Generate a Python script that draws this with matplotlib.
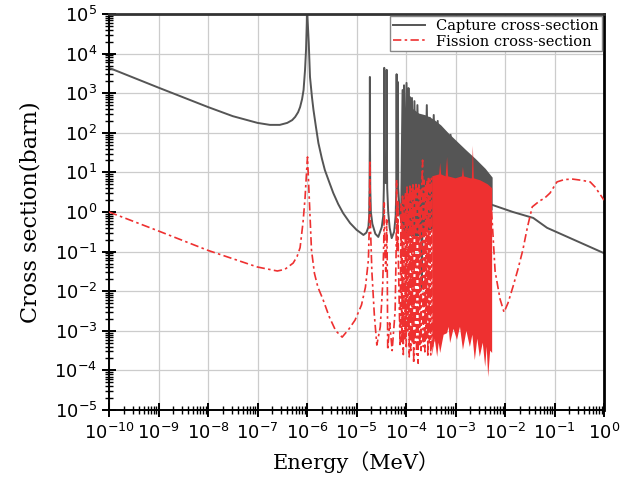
import numpy as np
import matplotlib
matplotlib.use("Agg")
import matplotlib.pyplot as plt
from matplotlib.ticker import LogLocator, NullFormatter, LogFormatterMathtext

plt.rcParams['mathtext.fontset'] = 'cm'

# values, stored as log10(E / MeV) and log10(sigma / barn)

# capture cross-section (one line through the resolved peaks)
capture_log_e = [-10, -9, -8, -7.5, -7, -6.75, -6.55, -6.40, -6.30, -6.24, -6.18, -6.14, -6.10,
                 -6.07, -6.04, -6.02, -6.005, -6.0, -5.99, -5.965, -5.94, -5.90, -5.87, -5.82,
                 -5.77, -5.70, -5.64, -5.55, -5.47, -5.37, -5.27, -5.13, -5.0, -4.86, -4.8,
                 -4.76, -4.745, -4.737, -4.733, -4.73, -4.727, -4.722, -4.71, -4.68, -4.62,
                 -4.56, -4.49, -4.46, -4.448, -4.443, -4.44, -4.437, -4.43, -4.41, -4.398,
                 -4.393, -4.39, -4.387, -4.38, -4.36, -4.33, -4.29, -4.24, -4.21, -4.195,
                 -4.19, -4.185, -4.17, -4.163, -4.157, -4.13, -4.10,
                 -4.07, -4.055, -4.04, -4.02, -3.99, -3.96, -3.95, -3.935, -3.92, -3.90,
                 -3.88, -3.85, -3.83, -3.80, -3.77, -3.72, -3.69, -3.68, -3.665, -3.65,
                 -3.62, -3.58, -3.55, -3.52, -3.48, -3.44, -3.40, -3.36, -3.33, -3.31,
                 -3.25, -3.19, -3.15, -3.1, -3.05, -2.5, -2.26, -1.84, -1.43, -1.15, 0.0]
capture_log_s = [3.64, 3.14, 2.65, 2.42, 2.25, 2.20, 2.20, 2.25, 2.32, 2.40, 2.52, 2.65, 2.85,
                 3.08, 3.59, 4.1, 4.77, 5.2, 4.9, 4.27, 3.41, 2.9, 2.58, 2.15,
                 1.74, 1.35, 1.06, 0.75, 0.48, 0.2, -0.03, -0.28, -0.45, -0.58, -0.52,
                 -0.38, -0.1, 0.6, 1.6, 3.41, 1.6, 0.6, 0.0, -0.3, -0.55,
                 -0.63, -0.38, -0.1, 0.6, 1.6, 3.64, 1.6, 0.9, 0.73, 0.9,
                 1.6, 3.59, 1.6, 0.6, 0.0, -0.4, -0.66, -0.5, -0.1, 0.6,
                 3.48, 0.8, 0.8, 3.28, 0.6, 0.0, -0.2,
                 3.08, 0.3, 3.2, 0.3, 3.26, 0.3, 3.13, 0.3, 2.9, 0.3,
                 2.88, 0.3, 2.8, 0.3, 2.7, 0.0, -0.5, -1.9, 0.0, 2.4,
                 0.5, 2.7, 0.5, 2.38, 0.5, 2.45, 0.5, 2.3, 0.5, 2.15,
                 0.5, 2.0, 0.5, 1.95, 0.5, 0.3, 0.18, 0.0, -0.15, -0.40, -1.04]

# unresolved-looking capture band
capture_band_log_e = [-4.1, -4.05, -3.95, -3.85, -3.75, -3.6, -3.45, -3.3, -3.15, -3.0, -2.8,
                      -2.6, -2.4, -2.26]
capture_band_top = [0.8, 2.55, 2.65, 2.6, 2.5, 2.45, 2.35, 2.2, 2.0, 1.82, 1.58, 1.35, 1.1, 0.88]
capture_band_bottom = [-0.3, -0.5, -0.6, -0.6, -0.6, -0.5, -0.4, -0.3, -0.2, -0.1, 0.0, 0.0,
                       0.05, 0.05]

# fission cross-section
fission_log_e = [-10, -9, -8, -7, -6.6, -6.45, -6.28, -6.2, -6.14, -6.08, -6.04, -6.01, -5.99,
                 -5.96, -5.91, -5.85, -5.78, -5.68, -5.55, -5.42, -5.29, -5.15, -5.03, -4.9,
                 -4.82, -4.76, -4.745, -4.737, -4.73, -4.723, -4.715, -4.69, -4.64, -4.59,
                 -4.52, -4.47, -4.45, -4.44, -4.43, -4.41, -4.395, -4.39, -4.38, -4.37, -4.33,
                 -4.28, -4.22, -4.20, -4.19, -4.18, -4.17, -4.163, -4.155, -4.12,
                 -4.10, -4.085, -4.07, -4.055, -4.04, -4.025, -4.01, -3.995, -3.98, -3.965,
                 -3.95, -3.935, -3.92, -3.905, -3.89, -3.875, -3.86, -3.845, -3.83, -3.815,
                 -3.80, -3.785, -3.77, -3.755, -3.74, -3.725, -3.71, -3.695, -3.68, -3.665,
                 -3.65, -3.635, -3.62, -3.605, -3.59, -3.575, -3.56, -3.545, -3.53, -3.515,
                 -3.50, -3.485, -3.47, -3.0, -2.27, -2.2, -2.1, -2.02, -1.94, -1.84, -1.74,
                 -1.64, -1.55, -1.45, -1.3, -1.2, -1.09, -0.95, -0.8, -0.63, -0.45, -0.28,
                 -0.18, 0.0]
fission_log_s = [0.0, -0.48, -0.97, -1.39, -1.49, -1.45, -1.29, -1.12, -0.9, -0.25, 0.35, 1.0, 1.39,
                 0.5, -0.96, -1.55, -1.9, -2.2, -2.65, -3.0, -3.16, -2.95, -2.73, -2.35,
                 -1.9, -1.21, -0.5, 0.2, 1.31, 0.2, -0.5, -1.5, -2.6, -3.36,
                 -2.9, -1.8, -0.8, 0.23, -0.8, -1.5, -0.8, -0.2, -1.2, -3.48, -2.8,
                 -3.5, -2.5, -1.0, 0.81, -1.0, -1.0, 0.3, -1.2, -3.4,
                 0.2, -3.3, 0.4, -3.6, 0.3, -3.2, 0.5, -3.4, 0.63, -3.0,
                 0.5, -3.66, 0.7, -3.5, 0.6, -3.3, 0.73, -3.82, 0.6, -3.3,
                 0.75, -3.6, 0.6, -3.82, 0.73, -3.4, 0.6, -3.5, 0.7, 1.31,
                 -3.4, 0.8, -3.53, 0.7, -3.2, 0.8, -3.66, 0.9, -3.3, 0.8,
                 -3.61, 0.85, -3.4, -1.0, 0.0, -1.5, -2.2, -2.53, -2.3, -1.89, -1.45,
                 -0.96, -0.4, 0.13, 0.28, 0.35, 0.48, 0.76, 0.82, 0.83, 0.8, 0.76,
                 0.63, 0.3]

# dense fission band (outline: upper edge left to right, lower edge)
fission_top_log_e = [-3.47, -3.33, -3.31, -3.29, -3.2, -3.17, -3.15, -3.0, -2.87, -2.85, -2.83,
                     -2.7, -2.67, -2.65, -2.63, -2.5, -2.35, -2.26]
fission_top_log_s = [0.9, 0.95, 1.24, 0.95, 0.9, 1.39, 0.9, 0.85, 0.9, 1.14, 0.9,
                     0.85, 0.85, 1.67, 0.85, 0.8, 0.7, 0.6]
fission_low_log_e = [-3.47, -3.42, -3.37, -3.34, -3.31, -3.24, -3.17, -3.14, -3.11, -3.04, -2.97,
                     -2.91, -2.85, -2.78, -2.71, -2.66, -2.61, -2.56, -2.51, -2.45, -2.40, -2.37,
                     -2.34, -2.30, -2.26]
fission_low_log_s = [-3.61, -3.2, -3.66, -3.3, -3.56, -3.1, -3.06, -2.9, -3.31, -2.95, -3.23,
                     -2.9, -3.48, -3.0, -3.41, -3.1, -3.74, -3.2, -3.66, -3.3, -3.91, -3.4,
                     -4.17, -3.5, -3.56]

gray = '#555555'
red = '#ee3030'

fig = plt.figure(figsize=(6.35, 4.86), dpi=100)
ax = fig.add_axes([0.1717, 0.1564, 0.7795, 0.8148])

ax.fill_between(10 ** np.array(capture_band_log_e), 10 ** np.array(capture_band_bottom),
                10 ** np.array(capture_band_top), color=gray, lw=0, zorder=2)
ax.plot(10 ** np.array(capture_log_e), 10 ** np.array(capture_log_s), color=gray, lw=1.4,
        label='Capture cross-section', zorder=2)

band_e = np.r_[fission_top_log_e, fission_low_log_e[::-1]]
band_s = np.r_[fission_top_log_s, fission_low_log_s[::-1]]
ax.fill(10 ** band_e, 10 ** band_s, color=red, lw=0, zorder=3)
ax.plot(10 ** np.array(fission_log_e), 10 ** np.array(fission_log_s), color=red, lw=1.2,
        linestyle=(0, (5, 2, 1.5, 2)), label='Fission cross-section', zorder=3)

ax.set_xscale('log')
ax.set_yscale('log')
ax.set_xlim(1e-10, 1)
ax.set_ylim(1e-5, 1e5)

for axis in (ax.xaxis, ax.yaxis):
    axis.set_major_locator(LogLocator(base=10, numticks=20))
    axis.set_minor_locator(LogLocator(base=10, subs=np.arange(2, 10), numticks=200))
    axis.set_minor_formatter(NullFormatter())
    axis.set_major_formatter(LogFormatterMathtext())

ax.tick_params(which='major', direction='inout', length=10, width=1.4, labelsize=13,
               top=False, right=False)
ax.tick_params(which='minor', direction='inout', length=6, width=1.0, top=False, right=False)
ax.tick_params(axis='x', pad=4)

ax.grid(True, which='major', color='#cccccc', lw=0.9)
ax.set_axisbelow(True)

for side in ('left', 'bottom'):
    ax.spines[side].set_linewidth(1.4)
ax.spines['top'].set_linewidth(2.0)
ax.spines['top'].set_color('#333333')
ax.spines['right'].set_linewidth(2.0)

label_font = ['DejaVu Serif', 'Noto Sans CJK SC']
ax.set_xlabel('Energy\uff08MeV\uff09', fontsize=15, family=label_font, labelpad=6)
ax.set_ylabel('Cross section(barn)', fontsize=16, family=label_font, labelpad=9)

leg = ax.legend(loc='upper right', prop={'family': 'DejaVu Serif', 'size': 10.5},
                frameon=True, fancybox=False, framealpha=1, edgecolor='#888888',
                borderaxespad=0.15, handlelength=2.2, borderpad=0.2, labelspacing=0.1)
leg.get_frame().set_linewidth(1.0)

fig.savefig('out.png', dpi=100)
